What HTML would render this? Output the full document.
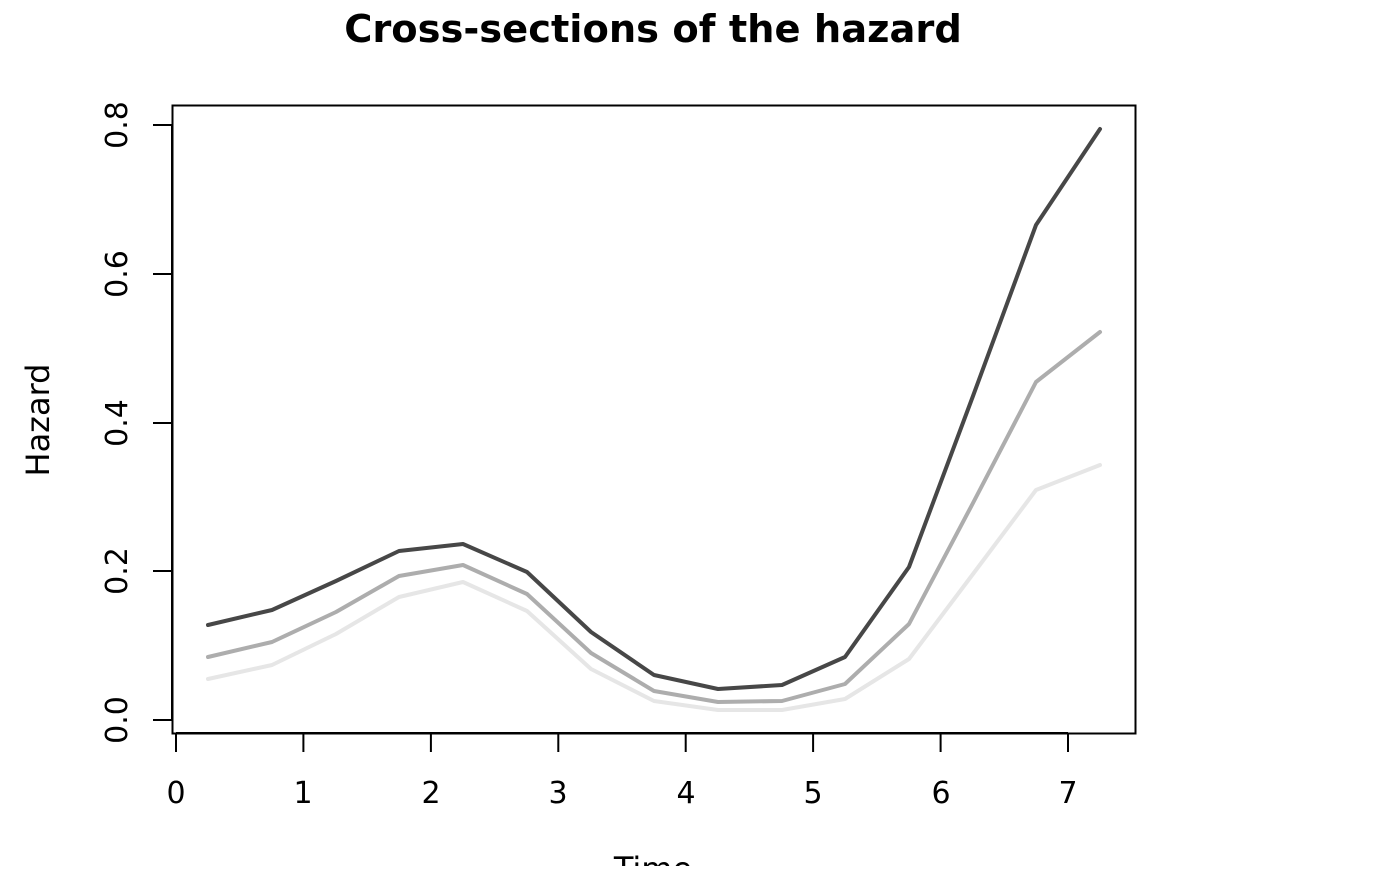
<!DOCTYPE html>
<html><head><style>body{margin:0;background:#fff}</style></head><body>
<svg width="1400" height="866" xmlns="http://www.w3.org/2000/svg" font-family="DejaVu Sans, Liberation Sans, sans-serif">
<rect width="1400" height="866" fill="#fff"/>
<text x="653" y="42" text-anchor="middle" font-size="38.4" font-weight="bold">Cross-sections of the hazard</text>
<rect x="172.5" y="105.5" width="963" height="628" fill="none" stroke="#000" stroke-width="2"/>
<g stroke="#000" stroke-width="2">
<line x1="176" y1="733" x2="1068" y2="733"/>
<line x1="176" y1="733" x2="176" y2="752"/><line x1="303.4" y1="733" x2="303.4" y2="752"/><line x1="430.9" y1="733" x2="430.9" y2="752"/><line x1="558.3" y1="733" x2="558.3" y2="752"/><line x1="685.7" y1="733" x2="685.7" y2="752"/><line x1="813.1" y1="733" x2="813.1" y2="752"/><line x1="940.6" y1="733" x2="940.6" y2="752"/><line x1="1068" y1="733" x2="1068" y2="752"/>
<line x1="172" y1="720" x2="172" y2="125"/>
<line x1="172" y1="720" x2="153" y2="720"/><line x1="172" y1="571" x2="153" y2="571"/><line x1="172" y1="423" x2="153" y2="423"/><line x1="172" y1="274" x2="153" y2="274"/><line x1="172" y1="125" x2="153" y2="125"/>
</g>
<g font-size="30" text-anchor="middle">
<text x="176" y="803">0</text><text x="303" y="803">1</text><text x="431" y="803">2</text><text x="558" y="803">3</text><text x="686" y="803">4</text><text x="813" y="803">5</text><text x="941" y="803">6</text><text x="1068" y="803">7</text>
<text transform="translate(127,720) rotate(-90)">0.0</text>
<text transform="translate(127,571) rotate(-90)">0.2</text>
<text transform="translate(127,423) rotate(-90)">0.4</text>
<text transform="translate(127,274) rotate(-90)">0.6</text>
<text transform="translate(127,125) rotate(-90)">0.8</text>
<text transform="translate(49,420) rotate(-90)" font-size="32">Hazard</text>
<text x="653" y="880" font-size="32">Time</text>
</g>
<g fill="none" stroke-width="4" stroke-linejoin="round" stroke-linecap="round">
<polyline stroke="#e6e6e6" points="208,679 272,665 336,634 399,597 463,582 527,611 591,669 654,701 718,710 782,710 845,699 909,659 973,574 1036,490 1100,465"/>
<polyline stroke="#adadad" points="208,657 272,642 336,612 399,576 463,565 527,594 591,653 654,691 718,702 782,701 845,684 909,624 973,503 1036,382 1100,332"/>
<polyline stroke="#474747" points="208,625 272,610 336,581 399,551 463,544 527,572 591,632 654,675 718,689 782,685 845,657 909,567 973,396 1036,225 1100,129"/>
</g>
</svg>
</body></html>
